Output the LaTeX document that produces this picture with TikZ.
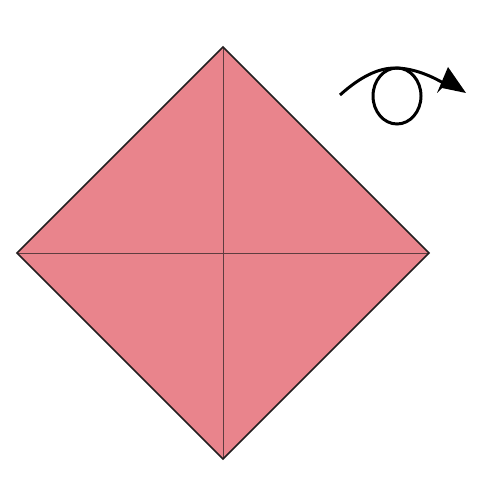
\documentclass[tikz,border=0pt]{standalone}
\definecolor{paper}{HTML}{E9848C}
\definecolor{edge}{HTML}{231F20}
\begin{document}
\begin{tikzpicture}[x=0.02cm,y=-0.02cm,
  outline/.style={draw=edge,line width=0.9pt,line join=miter},
  crease/.style={draw=edge!70!paper,line width=0.5pt},
  turn/.style={draw=black,line width=1.7pt}]
\useasboundingbox (0,0) rectangle (500,500);
\coordinate (T) at (223,47);
\coordinate (L) at (17,253);
\coordinate (R) at (429,253);
\coordinate (B) at (223,459);
\fill[paper] (T) -- (R) -- (B) -- (L) -- cycle;
\draw[crease] (T) -- (B);
\draw[crease] (L) -- (R);
\draw[outline] (T) -- (R) -- (B) -- (L) -- cycle;
% turn-over arrow
\coordinate (s) at (340,95);
\coordinate (p) at (395,68);
\coordinate (e) at (445,84);
\draw[turn] (s) .. controls (360,77) and (378,68) .. (p) .. controls (412,68) and (430,75) .. (e);
\draw[turn] (397,96) ellipse [x radius=24, y radius=28];
\fill[black] (448,67) -- (466,93) -- (442,88) -- (437,93) -- cycle;
\end{tikzpicture}
\end{document}
